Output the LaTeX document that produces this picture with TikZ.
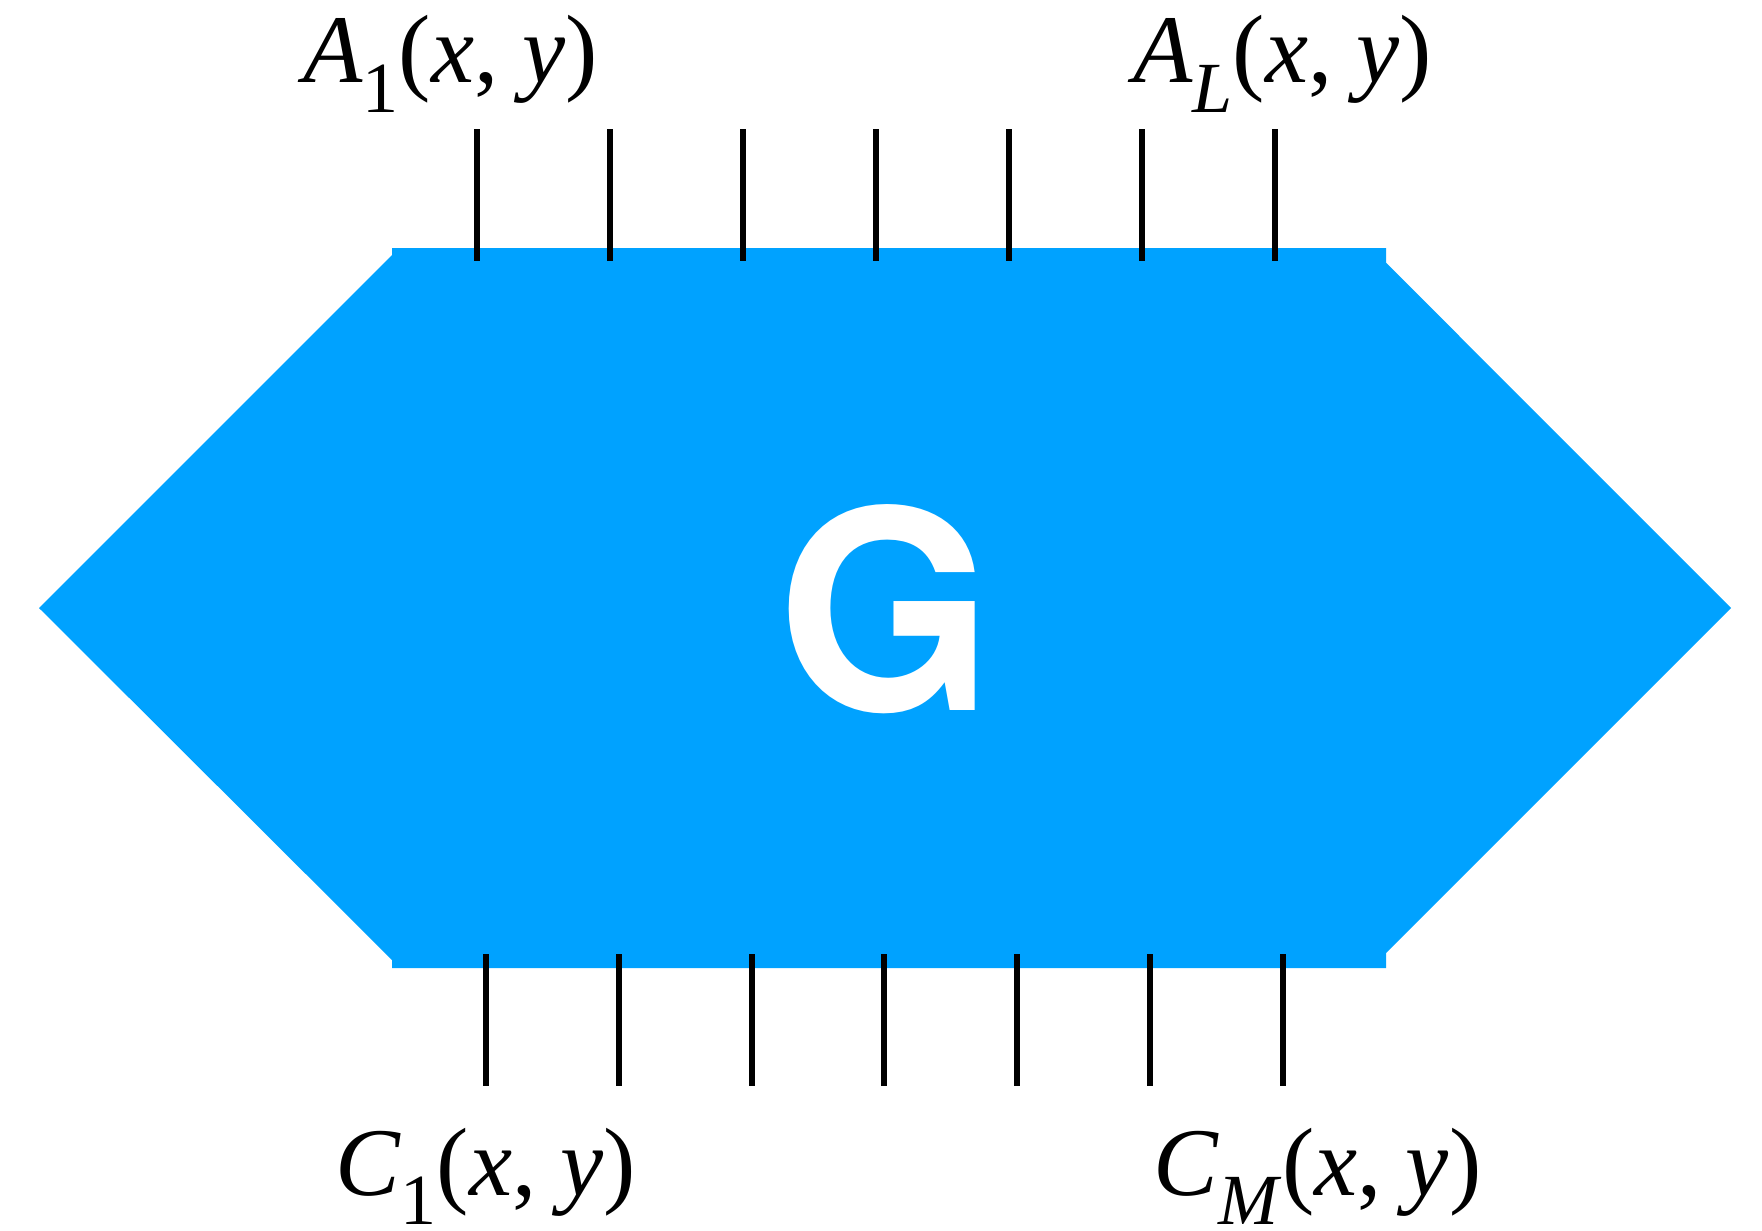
\documentclass[tikz,border=0pt]{standalone}
\usepackage{fontspec}
\setmainfont{Liberation Serif}
\newfontfamily\gfont{TeX Gyre Heros}
\definecolor{hexblue}{RGB}{0,162,255}
\newcommand{\lbl}[2]{\fontsize{97}{97}\selectfont\textit{#1}\raisebox{-0.3em}{\fontsize{72}{72}\selectfont #2}(\textit{x}, \textit{y})}
\begin{document}
\begin{tikzpicture}[x=1pt,y=-1pt,
  stub/.style={line width=5.6pt,black},
  lab/.style={inner sep=0pt,anchor=base west}]
\useasboundingbox (0,0) rectangle (1762,1231);
\fill[hexblue] (392,248) -- (1386,248) -- (1386,262.7) -- (1731,608) -- (1386,953) -- (1386,968)
  -- (392,968) -- (392,960) -- (39,608) -- (392,255) -- cycle;
\node[inner sep=0pt,anchor=base,text=white] (G) at (886,710.7) {\gfont\bfseries\fontsize{278}{278}\selectfont G};
% top stubs
\foreach \i/\x in {1/477,2/610,3/743,4/876,5/1009,6/1142,7/1275}{
  \coordinate (t\i a) at (\x,129);
  \coordinate (t\i b) at (\x,261);
  \draw[stub] (t\i a) -- (t\i b);
}
% bottom stubs
\foreach \i/\x in {1/486,2/619,3/752,4/884,5/1017,6/1150,7/1283}{
  \coordinate (b\i a) at (\x,954);
  \coordinate (b\i b) at (\x,1086);
  \draw[stub] (b\i a) -- (b\i b);
}
\node[lab] (A1) at (303,83) {\lbl{A}{1}};
\node[lab] (AL) at (1133,83) {\lbl{A}{\textit{L}}};
\node[lab] (C1) at (335,1195) {\lbl{C}{1}};
\node[lab] (CM) at (1153,1195) {\lbl{C}{\textit{M}}};
\end{tikzpicture}
\end{document}
